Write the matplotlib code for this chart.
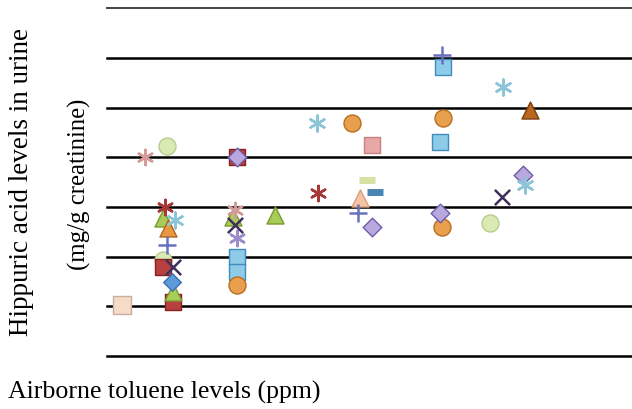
import matplotlib
matplotlib.use("Agg")
import matplotlib.pyplot as plt

plt.rcParams['font.family'] = ['Liberation Serif', 'DejaVu Serif']

# ---- data (toluene ppm, hippuric acid in grid units) ----
blue_sq_x = [26.0, 26.0, 66.6, 67.2]
blue_sq_y = [1.99, 1.69, 4.31, 5.81]
orange_ci_x = [26.0, 49.0, 67.2, 67.0]
orange_ci_y = [1.43, 4.69, 4.79, 2.60]
brown_tri_x = [84.6]
brown_tri_y = [4.95]
lime_tri_x = [11.2, 13.2, 25.2, 33.6]
lime_tri_y = [2.78, 1.29, 2.80, 2.84]
red_sq_x = [13.2, 11.2, 26.0]
red_sq_y = [1.09, 1.79, 4.00]
lav_dia_x = [26.0, 53.0, 66.6, 83.2]
lav_dia_y = [4.00, 2.60, 2.88, 3.64]
green_ci_x = [12.0, 11.2, 76.6]
green_ci_y = [4.23, 1.93, 2.68]
pink_ast_x = [7.6, 25.6]
pink_ast_y = [4.00, 2.94]
red_ast_x = [11.6, 42.2]
red_ast_y = [3.00, 3.28]
lblue_ast_x = [13.6, 42.0, 79.2, 83.6]
lblue_ast_y = [2.74, 4.69, 5.41, 3.44]
orange_tri_x = [12.2]
orange_tri_y = [2.58]
peach_tri_x = [50.6]
peach_tri_y = [3.18]
purple_plus_x = [12.0, 50.2, 67.0]
purple_plus_y = [2.23, 2.88, 6.06]
purple_x_x = [13.2, 25.6, 79.0]
purple_x_y = [1.79, 2.64, 3.20]
lpurple_ast_x = [26.0]
lpurple_ast_y = [2.37]
blue_dia_x = [13.0]
blue_dia_y = [1.49]
peach_sq_x = [3.0]
peach_sq_y = [1.03]
pink_sq_x = [53.0]
pink_sq_y = [4.25]
yg_minus_x = [52.0]
yg_minus_y = [3.54]
blue_minus_x = [53.6]
blue_minus_y = [3.30]

grid_levels = [0, 1, 2, 3, 4, 5, 6, 7]

ASTER = (6, 2, 0)

series = [
    (green_ci_x, green_ci_y, 'o', '#D9EBB3', '#B8CC90', 150),
    (blue_sq_x, blue_sq_y, 's', '#8DCBE8', '#3F8DBE', 140),
    (orange_ci_x, orange_ci_y, 'o', '#E9A04E', '#B86E20', 150),
    (red_sq_x, red_sq_y, 's', '#B84040', '#8A2020', 120),
    (lav_dia_x, lav_dia_y, 'D', '#B9A8DE', '#6E5CA8', 90),
    (lime_tri_x, lime_tri_y, '^', '#A8CC58', '#7A9A30', 150),
    (brown_tri_x, brown_tri_y, '^', '#B8681E', '#7A4010', 150),
    (orange_tri_x, orange_tri_y, '^', '#E89840', '#B06820', 150),
    (peach_tri_x, peach_tri_y, '^', '#F5C4A4', '#D8A080', 150),
    (peach_sq_x, peach_sq_y, 's', '#F6DCC6', '#C8B0A0', 160),
    (pink_sq_x, pink_sq_y, 's', '#E8A8A8', '#C88080', 140),
    (blue_dia_x, blue_dia_y, 'D', '#5C9AD8', '#3A70B0', 80),
    (pink_ast_x, pink_ast_y, ASTER, '#D49A9A', '#D49A9A', 120),
    (red_ast_x, red_ast_y, ASTER, '#A83838', '#A83838', 120),
    (lblue_ast_x, lblue_ast_y, ASTER, '#8CC4D8', '#8CC4D8', 130),
    (lpurple_ast_x, lpurple_ast_y, ASTER, '#9C8CCC', '#9C8CCC', 120),
    (purple_plus_x, purple_plus_y, '+', '#6A70C0', '#6A70C0', 160),
    (purple_x_x, purple_x_y, 'x', '#40305E', '#40305E', 120),
    (yg_minus_x, yg_minus_y, 's', '#D8E0A4', '#D8E0A4', 0),
    (blue_minus_x, blue_minus_y, 's', '#4A86B4', '#4A86B4', 0),
]

fig = plt.figure(figsize=(6.32, 4.09), dpi=100)
ax = fig.add_axes([107/632, 1 - 356/409, 1 - 107/632, (356 - 8.3)/409])
ax.set_xlim(0, 105)
ax.set_ylim(0, 7)
for s in ax.spines.values():
    s.set_visible(False)
ax.set_yticks(grid_levels)
ax.set_xticks([])
ax.tick_params(left=False, labelleft=False)
for lv in grid_levels:
    ax.axhline(lv, color='black' if lv < 7 else '#444444', lw=1.8 if lv < 7 else 1.4,
               zorder=1, clip_on=False)

for xs, ys, m, fc, ec, sz in series:
    if sz == 0:
        ax.scatter(xs, ys, marker='_', s=140, color=fc, linewidths=5, zorder=3, clip_on=False)
        continue
    if m in ('+', 'x') or isinstance(m, tuple):
        ax.scatter(xs, ys, marker=m, s=sz, color=fc, linewidths=1.8, zorder=3, clip_on=False)
    else:
        ax.scatter(xs, ys, marker=m, s=sz, facecolor=fc, edgecolor=ec, linewidths=1.0,
                   zorder=2, clip_on=False)

fig.text(22/632, 1 - 182/409, 'Hippuric acid levels in urine', rotation=90,
         ha='center', va='center', fontsize=19.5)
fig.text(79/632, 1 - 184/409, '(mg/g creatinine)', rotation=90,
         ha='center', va='center', fontsize=17.8)
fig.text(8/632, 1 - 392/409, 'Airborne toluene levels (ppm)', ha='left', va='center',
         fontsize=18.6)

fig.savefig('out.png', dpi=100)
